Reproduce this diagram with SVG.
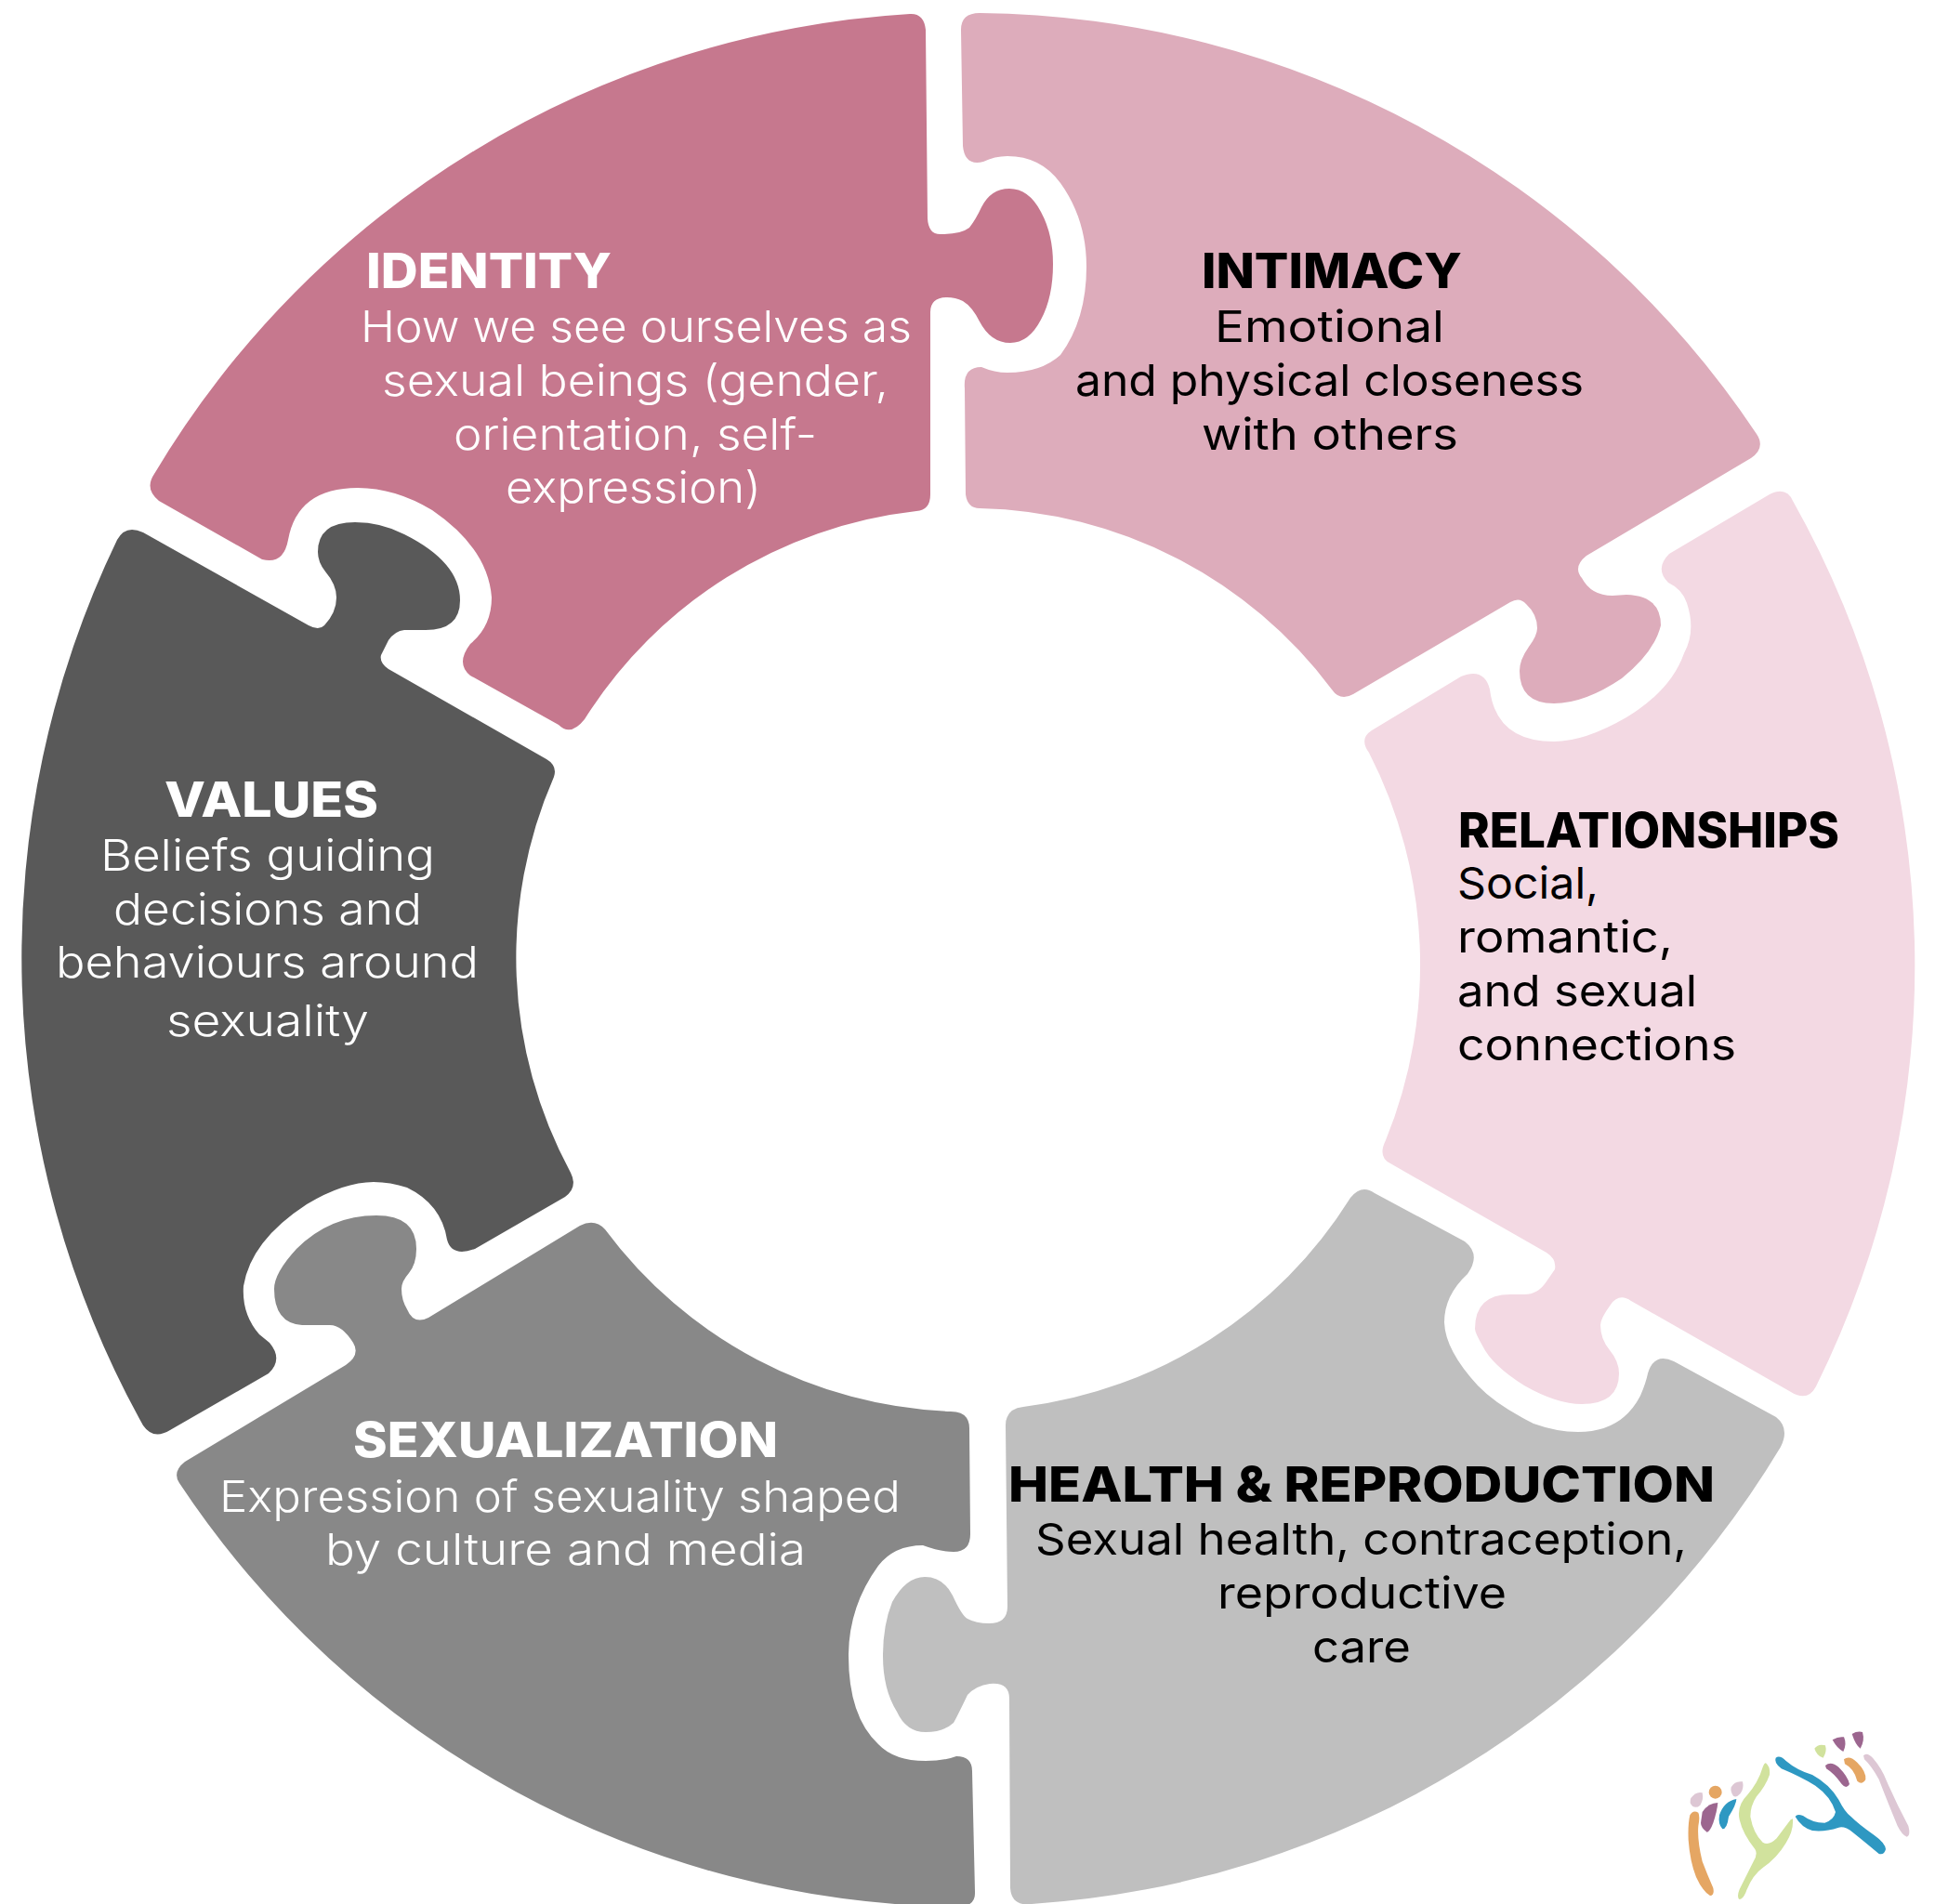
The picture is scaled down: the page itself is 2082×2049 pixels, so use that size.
<svg xmlns="http://www.w3.org/2000/svg" width="2082" height="2049" viewBox="0 0 2082 2049">
<style>
text{font-family:"Inter","Open Sans","Liberation Sans",sans-serif}
.t{font-size:52px;font-weight:800}
.b{font-size:47px;font-weight:400}
.w{fill:#fff}
.k{fill:#000}
.w.b{font-weight:300}
</style>
<rect width="2082" height="2049" fill="#fff"/>
<g id="identity">
<path fill="#C6788E" d="M979 15Q994 14 996 32L998 235Q999 253 1013 252Q1034 252 1043 245Q1050 236 1056 223Q1066 203 1086 203Q1107 203 1120 228Q1133 252 1133 284Q1133 320 1120 344Q1107 369 1087 369Q1066 369 1054 346Q1046 330 1036 324Q1028 320 1019 320Q1001 320 1001 336L1001 532Q1001 549 986 550A486 486 0 0 0 629 774Q614 793 601 780L506 727Q490 714 506 693Q529 674 529 643Q525 590 465 549Q425 525 385 525Q320 525 310 581Q305 608 282 602L171 539Q155 526 166 510A1018 1018 0 0 1 979 15Z"/>
<text class="t w" x="394" y="310" textLength="264" lengthAdjust="spacingAndGlyphs">IDENTITY</text>
<text class="b w" x="388" y="368" textLength="593" lengthAdjust="spacingAndGlyphs">How we see ourselves as</text>
<text class="b w" x="411" y="426" textLength="545" lengthAdjust="spacingAndGlyphs">sexual beings (gender,</text>
<text class="b w" x="488" y="484" textLength="391" lengthAdjust="spacingAndGlyphs">orientation, self-</text>
<text class="b w" x="544" y="541" textLength="275" lengthAdjust="spacingAndGlyphs">expression)</text>
</g>
<g id="intimacy">
<path fill="#DDACBB" d="M1054 14A1018 1018 0 0 1 1890 467Q1900 482 1884 493L1707 598Q1692 610 1702 622Q1712 641 1735 641L1750 640Q1787 641 1787 673Q1780 702 1745 730Q1705 757 1672 757Q1635 757 1635 722Q1635 710 1645 696Q1654 684 1654 676Q1654 661 1642 650Q1635 642 1625 648L1456 747Q1442 755 1433 742A486 486 0 0 0 1054 547Q1041 547 1039 532L1038 418Q1036 395 1056 395Q1070 401 1084 401Q1120 401 1141 382Q1169 344 1169 287Q1169 236 1141 197Q1120 168 1084 168Q1070 168 1058 174Q1038 179 1036 157L1034 32Q1034 14 1054 14Z"/>
<text class="t k" x="1293" y="310" textLength="280" lengthAdjust="spacingAndGlyphs">INTIMACY</text>
<text class="b k" x="1307" y="368" textLength="247" lengthAdjust="spacingAndGlyphs">Emotional</text>
<text class="b k" x="1157" y="426" textLength="547" lengthAdjust="spacingAndGlyphs">and physical closeness</text>
<text class="b k" x="1293" y="484" textLength="276" lengthAdjust="spacingAndGlyphs">with others</text>
</g>
<g id="relationships">
<path fill="#F3D9E3" d="M1904 532Q1922 523 1929 539A1018 1018 0 0 1 1954 1492Q1945 1509 1927 1498L1755 1400Q1742 1391 1733 1404Q1722 1419 1722 1426Q1722 1441 1732 1453Q1742 1465 1742 1478Q1742 1511 1702 1511Q1675 1511 1640 1491Q1605 1469 1595 1448Q1587 1434 1587 1430Q1587 1393 1625 1393L1640 1393Q1655 1393 1664 1379L1673 1366Q1675 1355 1664 1348L1496 1252Q1482 1245 1491 1227A500 500 0 0 0 1473 810Q1462 795 1476 786L1572 728Q1597 718 1603 742Q1610 798 1672 798Q1705 798 1750 772Q1798 743 1812 703Q1825 679 1815 649Q1810 634 1795 627Q1780 612 1796 596Z"/>
<text class="t k" x="1569" y="912" textLength="410" lengthAdjust="spacingAndGlyphs">RELATIONSHIPS</text>
<text class="b k" x="1568" y="967" textLength="152" lengthAdjust="spacingAndGlyphs">Social,</text>
<text class="b k" x="1568" y="1025" textLength="232" lengthAdjust="spacingAndGlyphs">romantic,</text>
<text class="b k" x="1568" y="1083" textLength="258" lengthAdjust="spacingAndGlyphs">and sexual</text>
<text class="b k" x="1568" y="1141" textLength="300" lengthAdjust="spacingAndGlyphs">connections</text>
</g>
<g id="health">
<path fill="#BFBFBF" d="M1453 1289Q1465 1274 1479 1284L1576 1336Q1594 1350 1579 1371Q1554 1394 1554 1423Q1555 1453 1590 1491Q1610 1512 1650 1532Q1675 1541 1698 1541Q1745 1541 1765 1502Q1771 1488 1773 1478Q1780 1455 1801 1465L1911 1525Q1926 1537 1916 1557A1018 1018 0 0 1 1110 2049Q1088 2052 1087 2031L1086 1828Q1086 1810 1065 1812Q1050 1814 1041 1824Q1030 1847 1026 1854Q1015 1864 996 1864Q975 1864 965 1842Q950 1818 950 1782Q950 1749 960 1724Q975 1697 995 1697Q1015 1697 1025 1717Q1035 1739 1041 1742Q1050 1747 1064 1747Q1084 1747 1084 1729L1082 1534Q1082 1516 1101 1514A486 486 0 0 0 1453 1289Z"/>
<text class="t k" x="1085" y="1616" textLength="760" lengthAdjust="spacingAndGlyphs">HEALTH &amp; REPRODUCTION</text>
<text class="b k" x="1114" y="1673" textLength="701" lengthAdjust="spacingAndGlyphs">Sexual health, contraception,</text>
<text class="b k" x="1310" y="1731" textLength="311" lengthAdjust="spacingAndGlyphs">reproductive</text>
<text class="b k" x="1412" y="1789" textLength="106" lengthAdjust="spacingAndGlyphs">care</text>
</g>
<g id="sexualization">
<path fill="#888888" d="M651 1323A486 486 0 0 0 1023 1519Q1043 1519 1043 1537L1044 1651Q1044 1670 1026 1670Q1012 1670 993 1663Q962 1663 945 1685Q913 1729 913 1782Q913 1847 945 1877Q962 1895 996 1895Q1015 1895 1029 1890Q1046 1890 1046 1906L1049 2036Q1050 2052 1030 2052A1018 1018 0 0 1 193 1596Q185 1584 199 1573L372 1469Q388 1458 380 1445Q368 1426 355 1426L325 1426Q295 1424 295 1387Q295 1370 319 1344Q355 1308 405 1308Q448 1308 448 1344Q448 1360 440 1370Q432 1379 432 1387Q432 1399 438 1409Q445 1426 461 1418L624 1319Q640 1311 651 1323Z"/>
<text class="t w" x="380" y="1568" textLength="457" lengthAdjust="spacingAndGlyphs">SEXUALIZATION</text>
<text class="b w" x="236" y="1627" textLength="733" lengthAdjust="spacingAndGlyphs">Expression of sexuality shaped</text>
<text class="b w" x="350" y="1684" textLength="517" lengthAdjust="spacingAndGlyphs">by culture and media</text>
</g>
<g id="values">
<path fill="#595959" d="M126 581Q135 564 154 573L332 673Q343 679 349 673Q362 659 362 643Q362 629 350 615Q342 605 342 594Q342 562 382 562Q410 562 435 575Q495 605 495 646Q495 678 458 678L435 678Q425 679 418 689L410 705Q408 713 418 720L588 817Q600 824 596 836A486 486 0 0 0 614 1262Q622 1278 608 1288L511 1344Q486 1353 481 1334Q475 1296 438 1278Q420 1272 402 1272Q370 1272 330 1296Q270 1335 262 1384Q260 1414 279 1436L290 1445Q305 1463 289 1478L183 1539Q165 1550 154 1534A1035 1035 0 0 1 126 581Z"/>
<text class="t w" x="177" y="879" textLength="230" lengthAdjust="spacingAndGlyphs">VALUES</text>
<text class="b w" x="108" y="937" textLength="360" lengthAdjust="spacingAndGlyphs">Beliefs guiding</text>
<text class="b w" x="122" y="995" textLength="332" lengthAdjust="spacingAndGlyphs">decisions and</text>
<text class="b w" x="60" y="1052" textLength="455" lengthAdjust="spacingAndGlyphs">behaviours around</text>
<text class="b w" x="179" y="1115" textLength="218" lengthAdjust="spacingAndGlyphs">sexuality</text>
</g>
<g id="logo" transform="translate(1790 1840) scale(.33333)">
<path fill="#E5A663" d="M85 340Q95 322 112 332Q118 345 112 375Q108 420 125 490Q140 530 160 575Q165 600 150 600Q125 585 105 540Q85 490 80 420Q78 370 85 340Z"/>
<path fill="#DDC7D4" d="M88 285Q105 262 125 268Q130 290 118 308Q105 320 92 310Q82 300 88 285Z"/>
<circle fill="#E5A663" cx="167" cy="266" r="21"/>
<path fill="#DDC7D4" d="M218 250Q230 228 255 232Q260 255 248 270Q235 285 225 278Q215 265 218 250Z"/>
<path fill="#9C668F" d="M125 330Q145 300 175 300Q172 330 160 365Q150 392 140 395Q120 380 120 365Z"/>
<path fill="#2E98C2" d="M180 340Q195 295 235 288Q235 305 210 345Q205 385 190 385Q175 370 180 340Z"/>
<path fill="#D1E29D" d="M330 172Q345 185 342 210Q330 245 300 280Q280 310 280 345Q290 400 320 428Q340 440 365 415Q395 375 410 355L417 352Q420 390 395 430Q365 480 320 510Q285 535 265 590Q255 612 245 612Q235 605 245 580Q270 530 290 490Q305 465 295 450Q255 400 245 355Q235 310 270 275Q305 235 320 185Q325 172 330 172Z"/>
<path fill="#2E98C2" d="M362 155Q375 145 395 165Q430 195 480 210Q535 240 565 290Q585 330 605 345Q630 370 680 405Q715 430 717 450Q712 470 695 465Q660 435 610 395Q585 375 565 380Q520 395 480 390Q445 380 425 345Q430 335 450 342Q480 365 520 365Q550 355 555 330Q540 280 490 245Q440 215 380 190Q355 170 362 155Z"/>
<path fill="#D1E29D" d="M487 125Q500 108 522 115Q528 135 515 155Q495 150 487 125Z"/>
<path fill="#9C668F" d="M545 97Q565 85 582 88Q592 110 580 135Q560 125 545 97Z"/>
<path fill="#9C668F" d="M608 78Q625 68 642 72Q650 100 635 125Q620 115 608 78Z"/>
<path fill="#9C668F" d="M522 180Q540 165 565 185Q595 215 600 240Q590 258 575 240Q550 205 525 190Z"/>
<path fill="#E5A663" d="M582 160Q600 145 625 170Q655 200 652 225Q640 245 625 230Q615 190 585 175Z"/>
<path fill="#DDC7D4" d="M645 148Q655 135 675 155Q705 190 720 230Q750 300 790 375Q798 405 785 410Q770 405 755 375Q720 290 695 225Q670 180 648 160Z"/>
</g>
</svg>
